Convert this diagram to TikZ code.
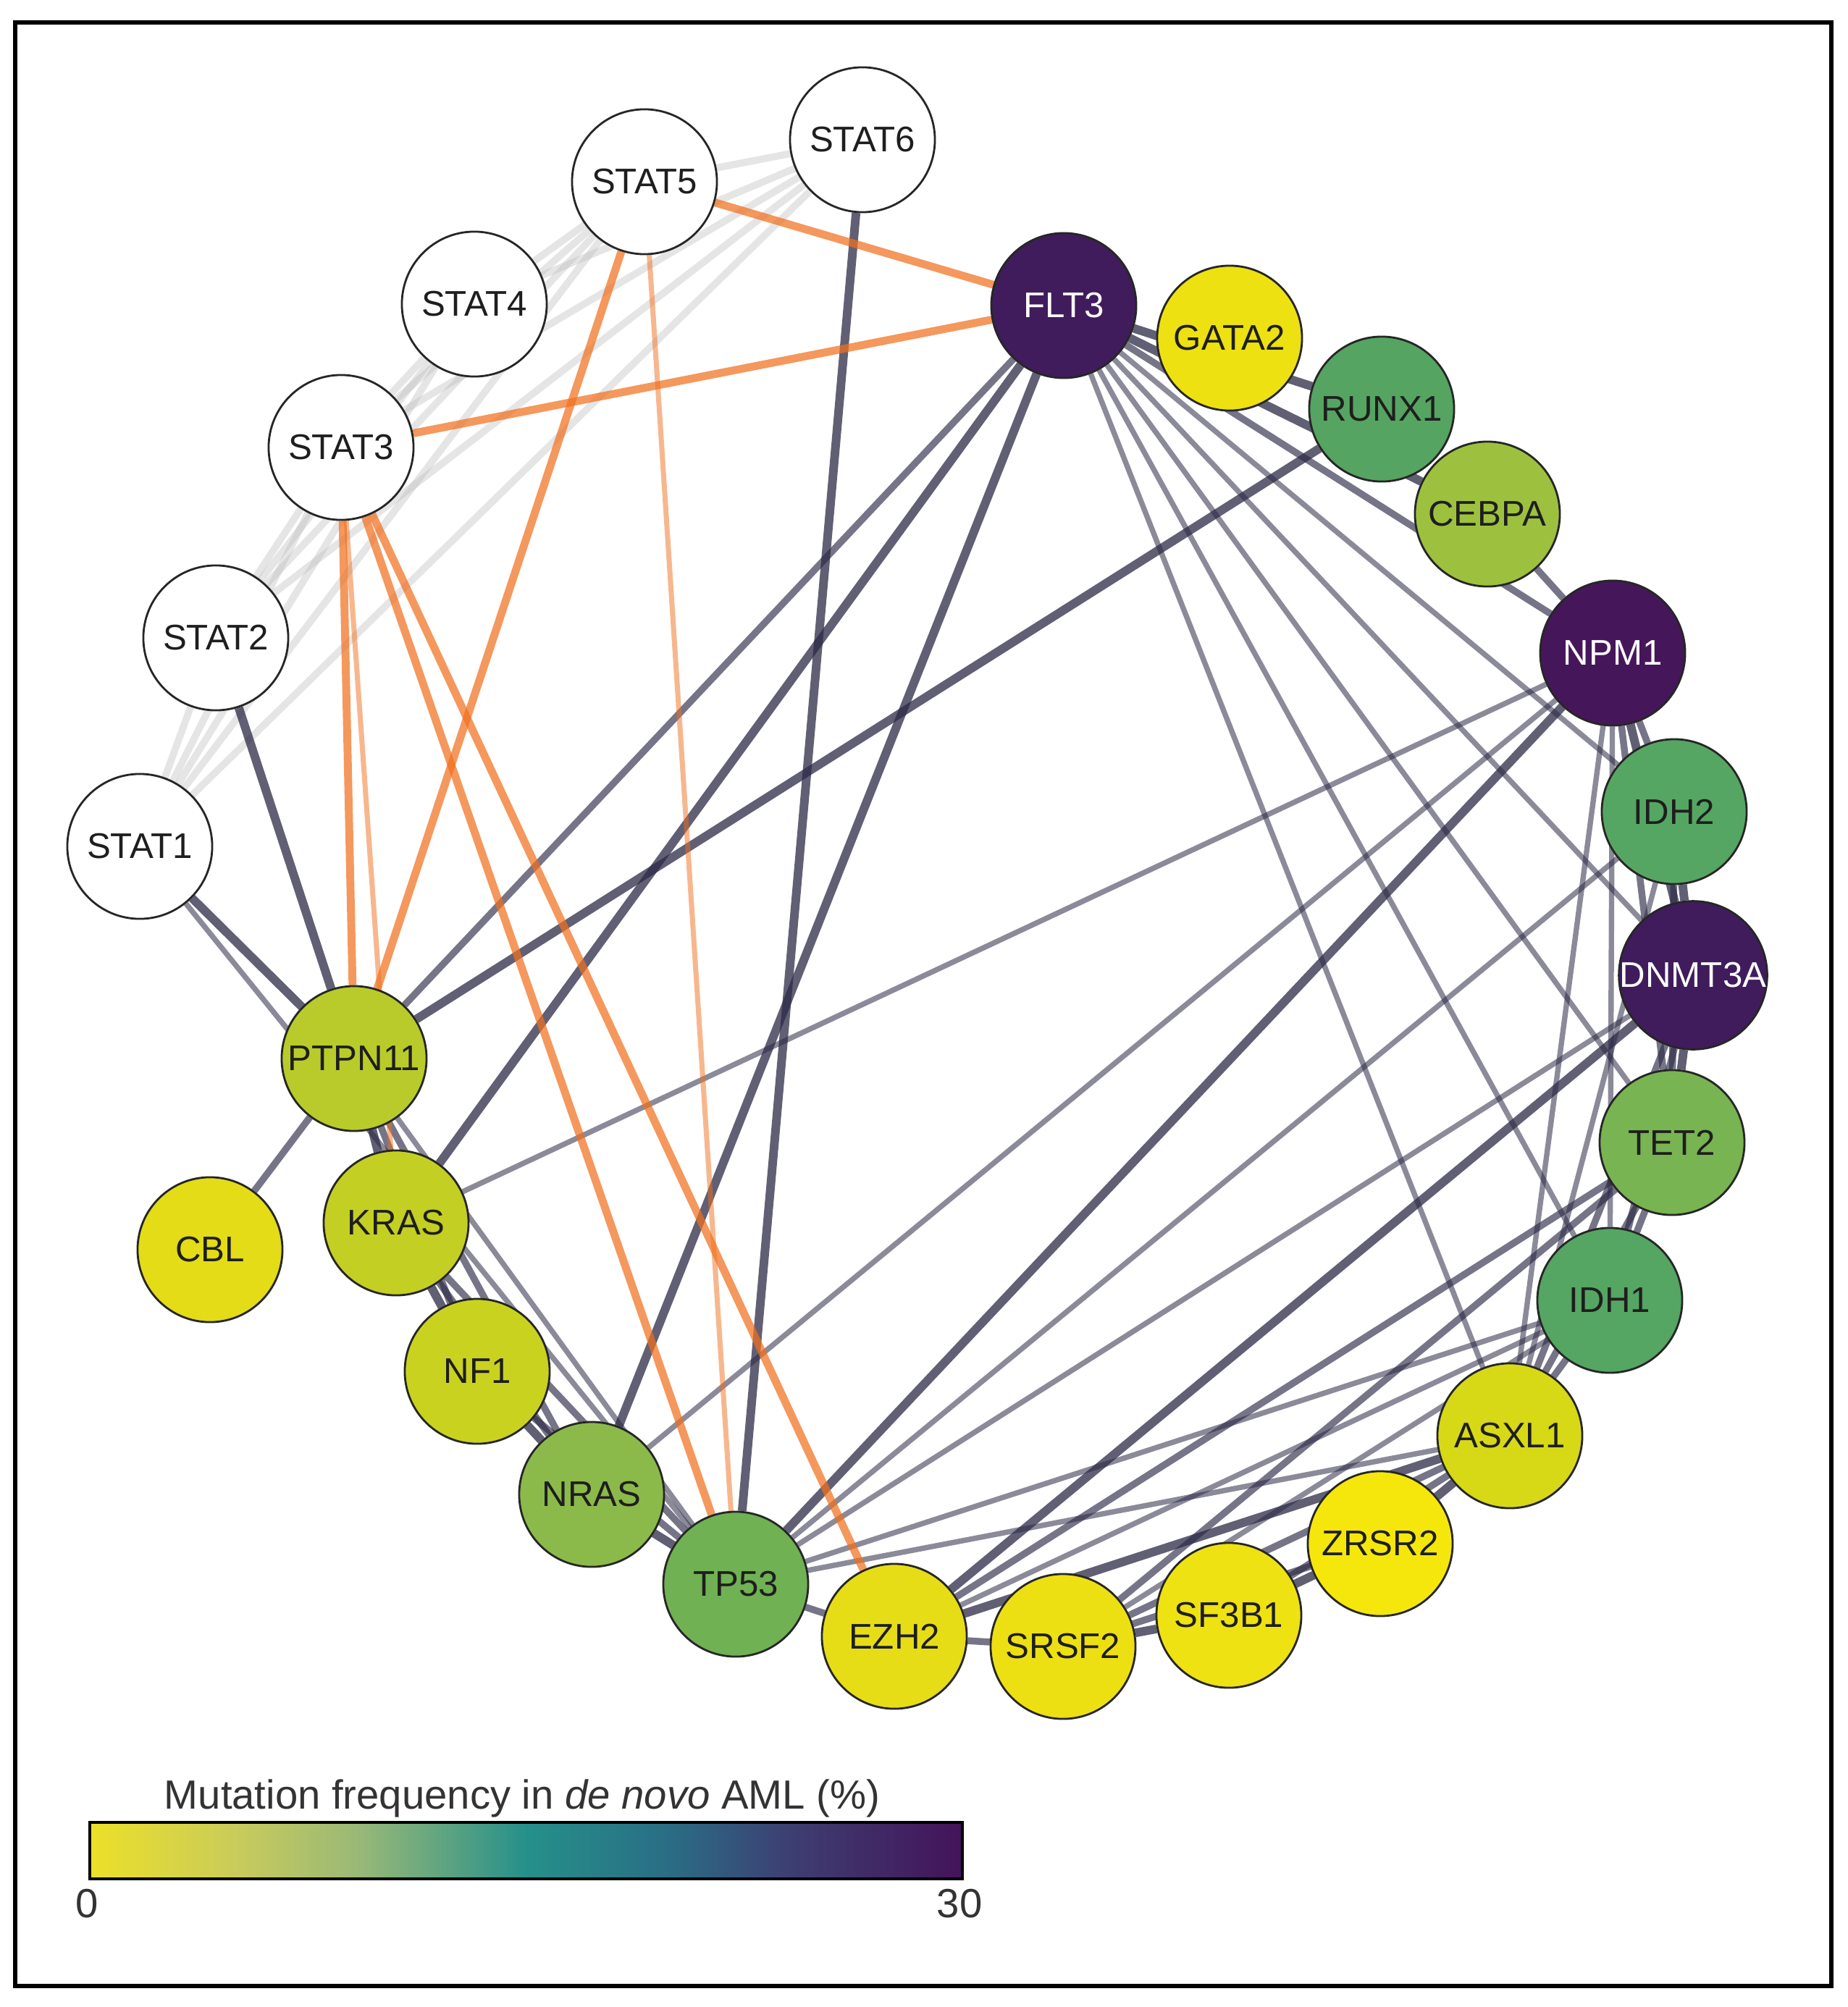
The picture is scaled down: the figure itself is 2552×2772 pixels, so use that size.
\documentclass[tikz,border=0pt]{standalone}
\usepackage{fontspec}
\setmainfont{Liberation Sans}
\pgfdeclarelayer{edges}
\pgfsetlayers{edges,main}
\definecolor{edgec}{RGB}{44,41,70}
\definecolor{orangec}{RGB}{240,112,30}
\definecolor{statc}{RGB}{190,190,190}
\definecolor{cPurpleA}{RGB}{64,28,92}
\definecolor{cPurpleB}{RGB}{70,22,90}
\definecolor{cGATA2}{RGB}{237,225,18}
\definecolor{cRUNX1}{RGB}{85,164,98}
\definecolor{cCEBPA}{RGB}{157,193,63}
\definecolor{cIDH2}{RGB}{86,166,99}
\definecolor{cTET2}{RGB}{120,180,81}
\definecolor{cIDH1}{RGB}{85,165,99}
\definecolor{cASXL1}{RGB}{215,217,22}
\definecolor{cZRSR2}{RGB}{245,231,12}
\definecolor{cSF3B1}{RGB}{238,226,18}
\definecolor{cSRSF2}{RGB}{237,224,18}
\definecolor{cEZH2}{RGB}{230,221,23}
\definecolor{cTP53}{RGB}{112,177,84}
\definecolor{cNRAS}{RGB}{140,186,74}
\definecolor{cNF1}{RGB}{202,210,32}
\definecolor{cKRAS}{RGB}{196,207,35}
\definecolor{cPTPN11}{RGB}{184,203,42}
\definecolor{cCBL}{RGB}{227,220,22}
\definecolor{txt}{RGB}{30,30,30}
\definecolor{legtxt}{RGB}{51,51,51}
\definecolor{g0}{RGB}{236,224,40}
\definecolor{g1}{RGB}{200,203,92}
\definecolor{g2}{RGB}{152,184,120}
\definecolor{g3}{RGB}{37,144,138}
\definecolor{g4}{RGB}{42,110,133}
\definecolor{g5}{RGB}{61,63,114}
\definecolor{g6}{RGB}{68,19,90}
\tikzset{
  gn/.style={circle, draw=black!85, line width=0.8pt, minimum size=2cm, inner sep=0pt,
    font=\fontsize{14}{16}\selectfont, text=txt},
  statn/.style={gn, fill=white},
  darkn/.style={gn, text=white},
  eA/.style={draw=edgec, line width=2.1pt, opacity=0.55},
  eB/.style={draw=edgec, line width=2.7pt, opacity=0.65},
  eC/.style={draw=edgec, line width=3.4pt, opacity=0.75},
  oA/.style={draw=orangec, line width=2.0pt, opacity=0.5},
  oC/.style={draw=orangec, line width=3.1pt, opacity=0.72},
  sg/.style={draw=statc, line width=2.8pt, opacity=0.4},
  legt/.style={font=\fontsize{16}{18}\selectfont, text=legtxt}
}
\begin{document}
\begin{tikzpicture}[x=0.01cm,y=-0.01cm]
\useasboundingbox (0,0) rectangle (2552,2772);
\draw[line width=1.5pt] (21,31) rectangle (2529,2743);

% STAT nodes
\node[statn] (STAT6) at (1191,193) {STAT6};
\node[statn] (STAT5) at (890,251) {STAT5};
\node[statn] (STAT4) at (655,420) {STAT4};
\node[statn] (STAT3) at (471,618) {STAT3};
\node[statn] (STAT2) at (298,881) {STAT2};
\node[statn] (STAT1) at (193,1169) {STAT1};
% gene nodes
\node[darkn, fill=cPurpleA] (FLT3) at (1469,422) {FLT3};
\node[gn, fill=cGATA2] (GATA2) at (1698,467) {GATA2};
\node[gn, fill=cRUNX1] (RUNX1) at (1908,565) {RUNX1};
\node[gn, fill=cCEBPA] (CEBPA) at (2054,710) {CEBPA};
\node[darkn, fill=cPurpleB] (NPM1) at (2227,902) {NPM1};
\node[gn, fill=cIDH2] (IDH2) at (2312,1121) {IDH2};
\node[darkn, fill=cPurpleA] (DNMT3A) at (2338,1347) {DNMT3A};
\node[gn, fill=cTET2] (TET2) at (2309,1578) {TET2};
\node[gn, fill=cIDH1] (IDH1) at (2223,1796) {IDH1};
\node[gn, fill=cASXL1] (ASXL1) at (2085,1983) {ASXL1};
\node[gn, fill=cZRSR2] (ZRSR2) at (1906,2132) {ZRSR2};
\node[gn, fill=cSF3B1] (SF3B1) at (1697,2231) {SF3B1};
\node[gn, fill=cSRSF2] (SRSF2) at (1468,2274) {SRSF2};
\node[gn, fill=cEZH2] (EZH2) at (1235,2260) {EZH2};
\node[gn, fill=cTP53] (TP53) at (1016,2188) {TP53};
\node[gn, fill=cNRAS] (NRAS) at (817,2064) {NRAS};
\node[gn, fill=cNF1] (NF1) at (659,1894) {NF1};
\node[gn, fill=cKRAS] (KRAS) at (547,1689) {KRAS};
\node[gn, fill=cPTPN11] (PTPN11) at (489,1462) {PTPN11};
\node[gn, fill=cCBL] (CBL) at (290,1726) {CBL};

\begin{pgfonlayer}{edges}
% STAT-STAT grey edges
\foreach \a/\b in {STAT1/STAT2,STAT1/STAT3,STAT1/STAT4,STAT1/STAT5,STAT1/STAT6,
  STAT2/STAT3,STAT2/STAT4,STAT2/STAT5,STAT2/STAT6,STAT3/STAT4,STAT3/STAT5,STAT3/STAT6,
  STAT4/STAT5,STAT4/STAT6,STAT5/STAT6}
  \draw[sg] (\a) -- (\b);
% thin dark edges
\foreach \a/\b in {STAT1/TP53,PTPN11/TP53,KRAS/NPM1,NRAS/NPM1,TP53/IDH2,TP53/DNMT3A,
  TP53/IDH1,TP53/ASXL1,EZH2/IDH1,SRSF2/IDH1,ASXL1/IDH2,ASXL1/NPM1,ASXL1/FLT3,
  IDH1/NPM1,IDH1/FLT3,TET2/FLT3,DNMT3A/FLT3,IDH2/FLT3}
  \draw[eA] (\a) -- (\b);
% medium dark edges
\foreach \a/\b in {PTPN11/CBL,PTPN11/NF1,PTPN11/NRAS,PTPN11/FLT3,KRAS/NRAS,KRAS/TP53,
  NF1/TP53,TP53/EZH2,EZH2/SRSF2,EZH2/TET2,SRSF2/ZRSR2,SRSF2/ASXL1,SRSF2/TET2,
  SF3B1/ASXL1,ASXL1/IDH1,ASXL1/TET2,ASXL1/DNMT3A,IDH1/TET2,IDH1/DNMT3A,TET2/IDH2,
  TET2/NPM1,IDH2/NPM1,NPM1/CEBPA,NPM1/FLT3}
  \draw[eB] (\a) -- (\b);
% thick dark edges
\foreach \a/\b in {STAT1/PTPN11,STAT2/PTPN11,STAT6/TP53,PTPN11/KRAS,PTPN11/RUNX1,
  KRAS/FLT3,KRAS/NF1,NF1/NRAS,NRAS/TP53,NRAS/FLT3,TP53/NPM1,EZH2/DNMT3A,EZH2/ASXL1,
  SRSF2/SF3B1,SF3B1/ZRSR2,ZRSR2/ASXL1,TET2/DNMT3A,DNMT3A/IDH2,DNMT3A/NPM1,
  CEBPA/FLT3,RUNX1/FLT3}
  \draw[eC] (\a) -- (\b);
% orange edges
\foreach \a/\b in {STAT5/FLT3,STAT3/FLT3,STAT3/PTPN11,STAT3/TP53,STAT3/EZH2,STAT5/PTPN11}
  \draw[oC] (\a) -- (\b);
\foreach \a/\b in {STAT5/TP53,STAT3/KRAS}
  \draw[oA] (\a) -- (\b);
\end{pgfonlayer}

% legend
\node[legt, anchor=base] (legtitle) at (721,2498) {Mutation frequency in \textit{de novo} AML (\%)};
\coordinate (bar0) at (124,2517);
\coordinate (bar1) at (1329,2595);
\shade[left color=g0, right color=g1] (124,2517) rectangle (330,2595);
\shade[left color=g1, right color=g2] (329,2517) rectangle (499,2595);
\shade[left color=g2, right color=g3] (498,2517) rectangle (727,2595);
\shade[left color=g3, right color=g4] (726,2517) rectangle (921,2595);
\shade[left color=g4, right color=g5] (920,2517) rectangle (1089,2595);
\shade[left color=g5, right color=g6] (1088,2517) rectangle (1329,2595);
\draw[line width=1.4pt] (bar0) rectangle (bar1);
\node[legt, anchor=base] (leg0) at (120,2648) {0};
\node[legt, anchor=base] (leg30) at (1325,2648) {30};
\end{tikzpicture}
\end{document}
